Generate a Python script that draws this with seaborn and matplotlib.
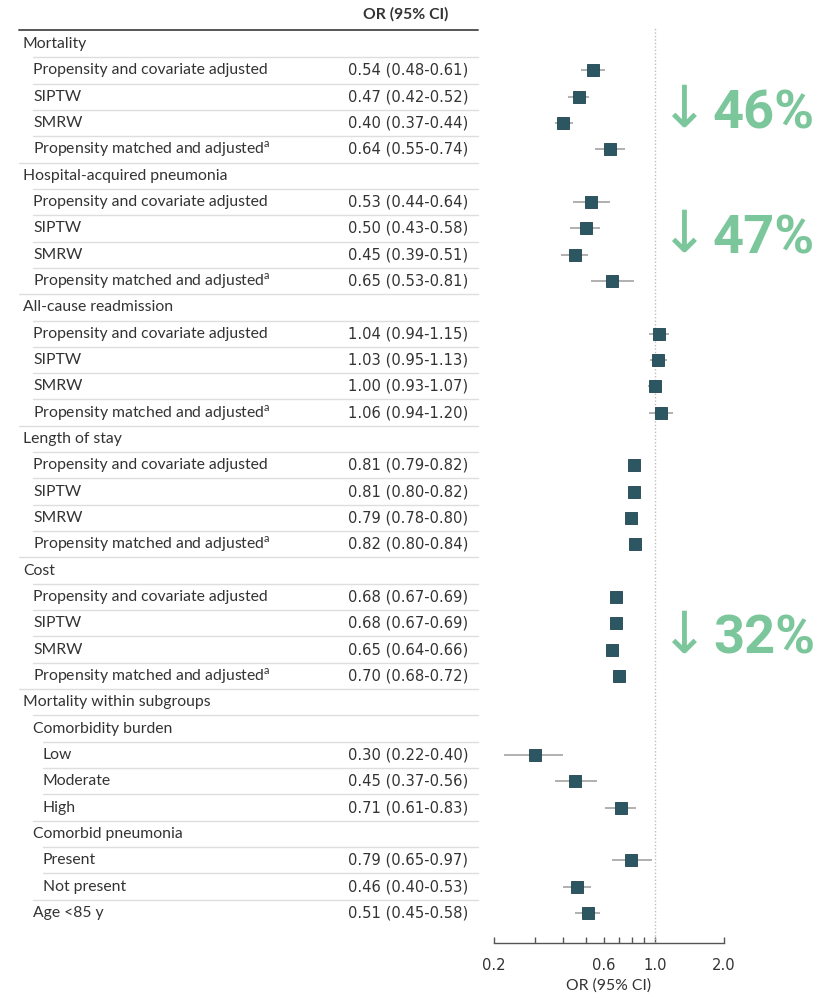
import matplotlib
matplotlib.use("Agg")
import matplotlib.pyplot as plt
from matplotlib.transforms import blended_transform_factory
import seaborn as sns
import pandas as pd
import numpy as np

# ---- data -------------------------------------------------------------
row_labels = [
    "Mortality",
    "Propensity and covariate adjusted", "SIPTW", "SMRW",
    "Propensity matched and adjusted$^{\\mathrm{a}}$",
    "Hospital-acquired pneumonia",
    "Propensity and covariate adjusted", "SIPTW", "SMRW",
    "Propensity matched and adjusted$^{\\mathrm{a}}$",
    "All-cause readmission",
    "Propensity and covariate adjusted", "SIPTW", "SMRW",
    "Propensity matched and adjusted$^{\\mathrm{a}}$",
    "Length of stay",
    "Propensity and covariate adjusted", "SIPTW", "SMRW",
    "Propensity matched and adjusted$^{\\mathrm{a}}$",
    "Cost",
    "Propensity and covariate adjusted", "SIPTW", "SMRW",
    "Propensity matched and adjusted$^{\\mathrm{a}}$",
    "Mortality within subgroups",
    "Comorbidity burden", "Low", "Moderate", "High",
    "Comorbid pneumonia", "Present", "Not present",
    "Age <85 y",
]
row_levels = [0, 1, 1, 1, 1,
              0, 1, 1, 1, 1,
              0, 1, 1, 1, 1,
              0, 1, 1, 1, 1,
              0, 1, 1, 1, 1,
              0, 1, 2, 2, 2, 1, 2, 2, 1]
or_values = [None, 0.54, 0.47, 0.40, 0.64,
             None, 0.53, 0.50, 0.45, 0.65,
             None, 1.04, 1.03, 1.00, 1.06,
             None, 0.81, 0.81, 0.79, 0.82,
             None, 0.68, 0.68, 0.65, 0.70,
             None, None, 0.30, 0.45, 0.71, None, 0.79, 0.46, 0.51]
ci_low = [None, 0.48, 0.42, 0.37, 0.55,
          None, 0.44, 0.43, 0.39, 0.53,
          None, 0.94, 0.95, 0.93, 0.94,
          None, 0.79, 0.80, 0.78, 0.80,
          None, 0.67, 0.67, 0.64, 0.68,
          None, None, 0.22, 0.37, 0.61, None, 0.65, 0.40, 0.45]
ci_high = [None, 0.61, 0.52, 0.44, 0.74,
           None, 0.64, 0.58, 0.51, 0.81,
           None, 1.15, 1.13, 1.07, 1.20,
           None, 0.82, 0.82, 0.80, 0.84,
           None, 0.69, 0.69, 0.66, 0.72,
           None, None, 0.40, 0.56, 0.83, None, 0.97, 0.53, 0.58]

x_ticks = [0.2, 0.3, 0.4, 0.5, 0.6, 0.7, 0.8, 0.9, 1.0, 2.0]
x_tick_labels = ["0.2", "", "", "", "0.6", "", "", "", "1.0", "2.0"]

callout_texts = ["46%", "47%", "32%"]
callout_rows = [2.65, 7.4, 22.6]

# ---- style ------------------------------------------------------------
sns.set_theme(style="white")
plt.rcParams["font.family"] = ["Lato", "DejaVu Sans"]
plt.rcParams["mathtext.fontset"] = "custom"
plt.rcParams["mathtext.rm"] = "Lato"

W, H = 825, 993
TEXT = "#333333"
SQUARE = "#2b5662"
CI_GREY = "#b0b0b0"
GREEN = "#7cc69b"
FS = 11.3
NUM_FS = 10.6
NUM_FONT = ["DejaVu Sans"]

fig = plt.figure(figsize=(W / 100, H / 100), dpi=100)
ax = fig.add_axes([494 / W, 1 - 943 / H, 230 / W, (943 - 28) / H])

n = len(row_labels)
rows = np.arange(n)
ax.set_xscale("log")
ax.set_xlim(0.2, 2.0)
ax.set_ylim(33 + 30 / 26.33, -16 / 26.33)

df = pd.DataFrame({"row": rows, "label": row_labels, "level": row_levels,
                   "or": or_values, "lo": ci_low, "hi": ci_high})
pts = df.dropna(subset=["or"]).astype({"or": float, "lo": float, "hi": float})

# reference line at OR = 1
ax.axvline(1.0, color="#bdbdbd", lw=1.0, ls=(0, (1, 1.5)), zorder=1)

# confidence intervals and point estimates
ax.hlines(pts["row"], pts["lo"], pts["hi"], color=CI_GREY, lw=1.4, zorder=2)
sns.scatterplot(data=pts, x="or", y="row", marker="s", s=85, color=SQUARE,
                edgecolor="#1f4450", linewidth=0.6, ax=ax, zorder=3,
                legend=False)

ax.set_xticks(x_ticks)
ax.set_xticklabels(x_tick_labels, fontsize=NUM_FS, color=TEXT,
                   family=NUM_FONT)
ax.xaxis.set_minor_locator(matplotlib.ticker.NullLocator())
ax.tick_params(axis="x", direction="in", length=4, width=1, color="#555555",
               pad=11, bottom=True)
ax.set_yticks([])
ax.set_ylabel("")
ax.set_xlabel("OR (95% CI)", fontsize=FS, color=TEXT, labelpad=4)
for side in ["top", "right", "left"]:
    ax.spines[side].set_visible(False)
ax.spines["bottom"].set_color("#555555")
ax.spines["bottom"].set_linewidth(1.0)

# ---- table on the left -----------------------------------------------
tr = blended_transform_factory(fig.transFigure, ax.transData)
text_x = {0: 23, 1: 33, 2: 43}
line_x = {0: 19, 1: 33, 2: 43}
right_edge = 478

for i, r in df.iterrows():
    ax.text(text_x[r["level"]] / W, i, r["label"], transform=tr, ha="left",
            va="center", fontsize=FS, color=TEXT, clip_on=False)
    if pd.notna(r["or"]):
        s = f"{r['or']:.2f} ({r['lo']:.2f}-{r['hi']:.2f})"
        ax.text(468 / W, i, s, transform=tr, ha="right", va="center",
                fontsize=NUM_FS, color=TEXT, family=NUM_FONT, clip_on=False)
    if i < n - 1:
        x0 = line_x[row_levels[i + 1]] / W
        ax.plot([x0, right_edge / W], [i + 0.5, i + 0.5], transform=tr,
                color="#dedede", lw=1.0, clip_on=False)

# header
ax.plot([19 / W, right_edge / W], [-0.52, -0.52], transform=tr,
        color="#555555", lw=1.4, clip_on=False)
ax.text(406 / W, -1.14, "OR (95% CI)", transform=tr, ha="center",
        va="center", fontsize=FS, fontweight="bold", color=TEXT,
        clip_on=False)

# ---- reduction callouts -----------------------------------------------
for txt, rw in zip(callout_texts, callout_rows):
    ax.text(659 / W, rw - 0.12, "↓", transform=tr, ha="left", va="center",
            fontsize=42, color=GREEN, family="DejaVu Sans", clip_on=False)
    ax.text(713 / W, rw, txt, transform=tr, ha="left", va="center",
            fontsize=39, fontweight="bold", color=GREEN, family="Roboto",
            clip_on=False)

fig.savefig("out.png", dpi=100)
